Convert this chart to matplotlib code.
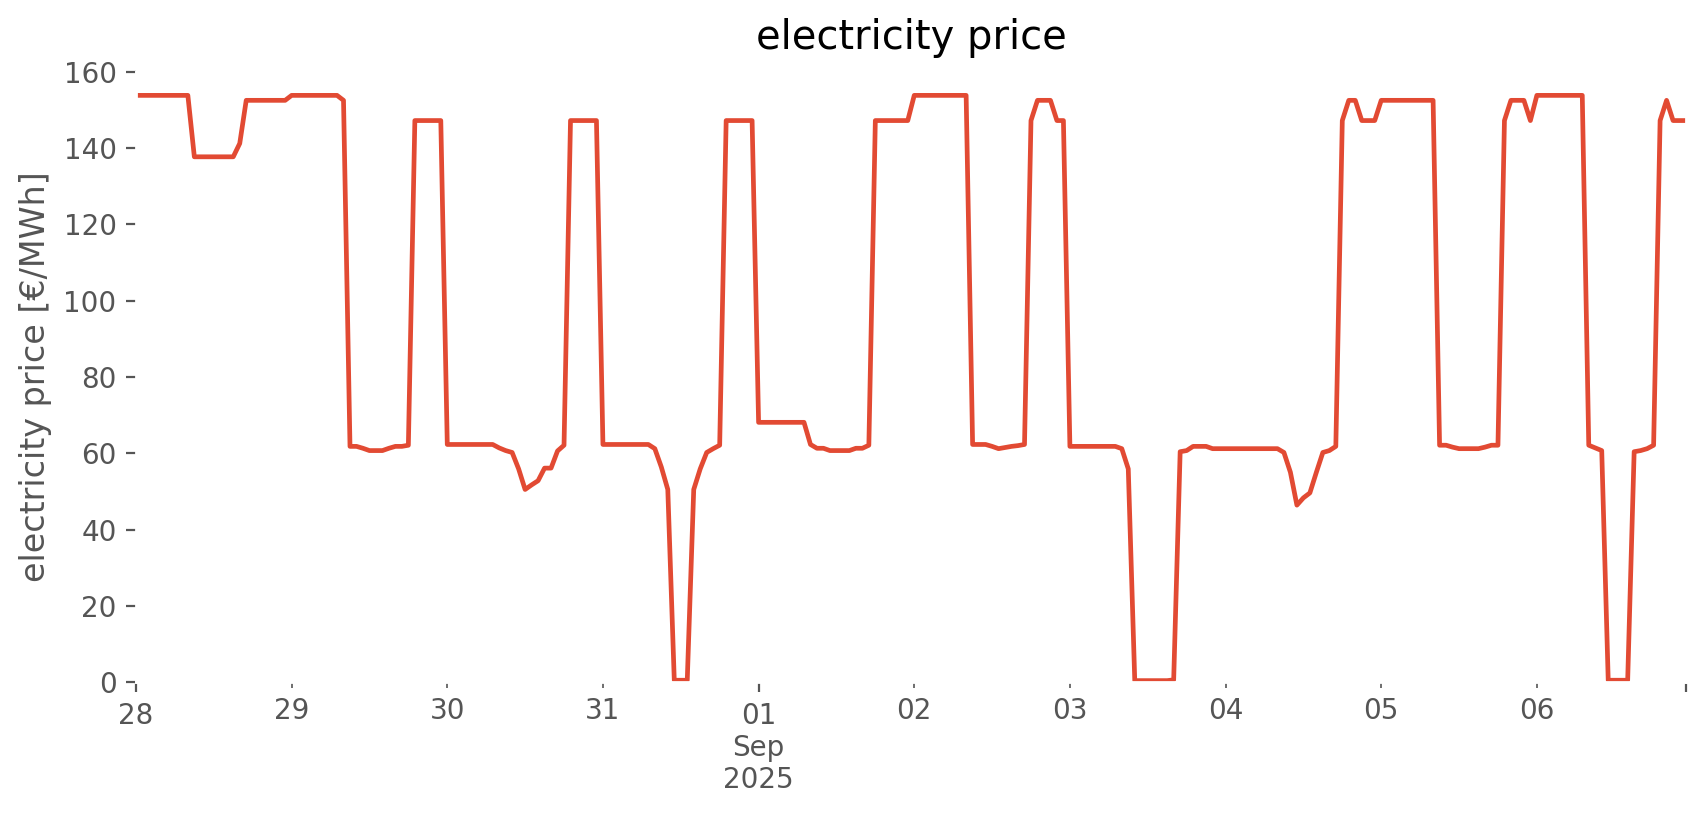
import matplotlib
matplotlib.use("Agg")
import matplotlib.pyplot as plt
import numpy as np
import pandas as pd

plt.style.use("ggplot")

# hourly day-ahead prices [€/MWh], one list per day
aug28 = [153.8]*9 + [137.7]*7 + [141.2] + [152.5]*7
aug29 = [153.8]*8 + [152.5, 61.8, 61.8, 61.3, 60.7, 60.7, 60.7, 61.3, 61.8, 61.8, 62.1] + [147.2]*5
aug30 = [62.3]*8 + [61.4, 60.7, 60.2, 55.9, 50.5, 51.7, 52.8, 56.1, 56.1, 60.6, 62.1] + [147.2]*5
aug31 = [62.3]*8 + [61.2, 56.4, 50.5, 0.5, 0.5, 0.5, 50.5, 55.9, 60.2, 61.2, 62.1] + [147.2]*5
sep01 = [68.1]*8 + [62.3, 61.3, 61.3, 60.7, 60.7, 60.7, 60.7, 61.3, 61.3, 62.1] + [147.2]*6
sep02 = [153.8]*9 + [62.3, 62.3, 62.3, 61.8, 61.2, 61.5, 61.8, 62.0, 62.3, 147.2,
                     152.5, 152.5, 152.5, 147.2, 147.2]
sep03 = [61.8]*8 + [61.2, 55.9] + [0.4]*6 + [0.6, 60.4, 60.7, 61.8, 61.8, 61.8, 61.2, 61.2]
sep04 = [61.2]*9 + [60.2, 55.0, 46.4, 48.3, 49.6, 55.0, 60.2, 60.7, 61.8, 147.2,
                    152.5, 152.5, 147.2, 147.2, 147.2]
sep05 = [152.5]*9 + [62.1, 62.1, 61.6, 61.2, 61.2, 61.2, 61.2, 61.6, 62.1, 62.1, 147.2,
                     152.5, 152.5, 152.5, 147.2]
sep06 = [153.8]*8 + [62.1, 61.4, 60.7, 0.5, 0.5, 0.5, 0.5, 60.4, 60.7, 61.2, 62.1, 147.2,
                     152.5, 147.2, 147.2, 147.2]

prices = aug28 + aug29 + aug30 + aug31 + sep01 + sep02 + sep03 + sep04 + sep05 + sep06
idx = pd.date_range("2025-08-28 00:00", periods=len(prices), freq="h")
s = pd.Series(prices, index=idx)

fig, ax = plt.subplots(figsize=(8.53, 4.075), dpi=200)
s.plot(ax=ax, lw=1.7)

ax.set_facecolor("white")
ax.grid(False)
ax.set_ylim(0, 160)
ax.set_title("electricity price", pad=8)
ax.set_ylabel("electricity price [€/MWh]")
ax.set_xlabel("")

plt.subplots_adjust(left=0.0797, right=0.9883, bottom=0.163, top=0.912)
plt.savefig("out.png", dpi=200)
